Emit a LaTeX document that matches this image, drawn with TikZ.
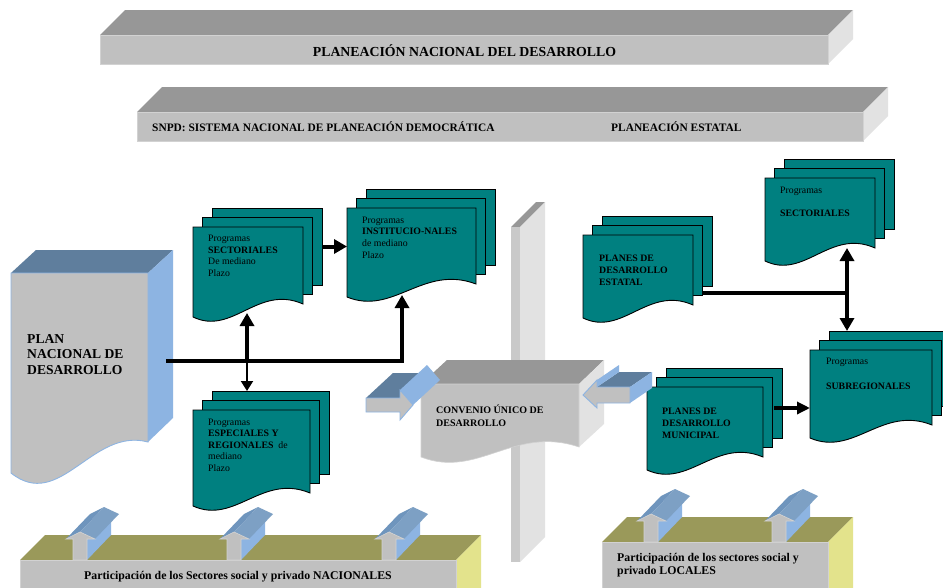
\documentclass[tikz,border=0pt]{standalone}
\usepackage{fontspec}
\setmainfont{Liberation Serif}
\usetikzlibrary{arrows.meta}

\definecolor{teal0}{HTML}{008080}
\definecolor{gFront}{HTML}{C0C0C0}
\definecolor{gTop}{HTML}{979797}
\definecolor{gSide}{HTML}{E2E2E2}
\definecolor{gEdge}{HTML}{D2D2D2}
\definecolor{slate}{HTML}{5F7E9D}
\definecolor{skyb}{HTML}{8DB4E2}
\definecolor{roofc}{HTML}{6F95BD}
\definecolor{olive}{HTML}{9A995A}
\definecolor{ylw}{HTML}{E3E38C}

% a stack of three document pages; #1 name, #2/#3 top-left of the front page,
% #4 width, #5 height of the right edge
\newcommand\docstack[5]{%
  \begin{scope}[shift={(#2,#3)}]
    \filldraw[page] (19,-19) rectangle ++(#4,#5);
    \node[anchorbox, minimum width=#4pt, minimum height=#5pt] (#1-b) at (19,-19) {};
    \filldraw[page] (9.5,-9.5) rectangle ++(#4,#5);
    \node[anchorbox, minimum width=#4pt, minimum height=#5pt] (#1-m) at (9.5,-9.5) {};
    \filldraw[page] (0,0) -- (#4,0) -- (#4,#5)
      .. controls ({0.59*#4},{#5-20}) and ({0.36*#4},{#5+32}) .. (0,{#5+13}) -- cycle;
    \node[anchorbox, minimum width=#4pt, minimum height=#5pt] (#1) at (0,0) {};
  \end{scope}}

% an extruded upward arrow standing on a bar; #1/#2 bottom-left of its shaft
\newcommand\housearrow[2]{%
  \begin{scope}[shift={(#1,#2)}]
    \fill[skyb] (14,0) -- (14,-21) -- (38,-46) -- (38,-25) -- cycle;
    \fill[roofc] (-7,-21) -- (7,-28) -- (31,-53) -- (17,-46) -- cycle;
    \fill[roofc!90!white] (7,-28) -- (22,-21) -- (46,-46) -- (31,-53) -- cycle;
    \filldraw[fill=gFront, draw=gEdge, line width=0.6pt]
      (0,0) -- (0,-21) -- (-7,-21) -- (7,-28) -- (22,-21) -- (14,-21) -- (14,0) -- cycle;
  \end{scope}}

\begin{document}
\begin{tikzpicture}[x=1pt, y=-1pt,
  page/.style={fill=teal0, draw=black, line width=0.9pt},
  anchorbox/.style={inner sep=0pt, outer sep=0pt, anchor=north west},
  doctext/.style={inner sep=0pt, anchor=base west, font=\fontsize{9.8}{11.6}\selectfont},
  docbold/.style={inner sep=0pt, anchor=base west, font=\bfseries\fontsize{9.8}{12}\selectfont},
  bartext/.style={inner sep=0pt, anchor=base west, font=\bfseries\fontsize{11.4}{13}\selectfont},
  basetext/.style={inner sep=0pt, font=\bfseries\fontsize{11.8}{12.4}\selectfont},
  conn/.style={draw=black, line width=4pt},
  bigtip/.style={-{Triangle[length=13pt,width=14pt]}},
  facefront/.style={fill=gFront, draw=gEdge, line width=0.6pt}]

\useasboundingbox (0,0) rectangle (943,587);
\clip (0,0) rectangle (943,587);
\fill[white] (0,0) rectangle (943,587);

% ---- heading bars
\fill[gTop] (100,35) -- (828,35) -- (853,10) -- (125,10) -- cycle;
\fill[gSide] (828,35) -- (853,10) -- (853,39) -- (828,64) -- cycle;
\filldraw[facefront] (100,35) rectangle (828,64);
\node[inner sep=0pt, anchor=base, font=\bfseries\fontsize{13.8}{15}\selectfont]
  (pnd-title) at (464.5,56.7) {PLANEACIÓN NACIONAL DEL DESARROLLO};

\fill[gTop] (137,112) -- (863,112) -- (888,87) -- (162,87) -- cycle;
\fill[gSide] (863,112) -- (888,87) -- (888,116) -- (863,141) -- cycle;
\filldraw[facefront] (137,112) rectangle (863,141);
\node[bartext] (snpd) at (152,131.7) {SNPD: SISTEMA NACIONAL DE PLANEACIÓN DEMOCRÁTICA};
\node[bartext] (estatal-title) at (611,131.7) {PLANEACIÓN ESTATAL};

% ---- central wall
\fill[gTop] (511,227) -- (520,227) -- (545,202) -- (536,202) -- cycle;
\fill[gSide] (520,227) -- (545,202) -- (545,537) -- (520,562) -- cycle;
\fill[gFront!85!white] (511,227) rectangle (520,562);

% ---- Plan Nacional de Desarrollo
\fill[slate] (11,273) -- (148,273) -- (173,250) -- (36,250) -- cycle;
\fill[skyb] (148,273) -- (173,250) -- (173,418) -- (148,442) -- cycle;
\filldraw[fill=gFront, draw=skyb, line width=0.9pt]
  (11,273) -- (148,273) -- (148,442) .. controls (92,427) and (60,512) .. (11,473) -- cycle;
\node[anchorbox, minimum width=137pt, minimum height=169pt] (pnd) at (11,273) {};
\node[inner sep=0pt, anchor=base west, font=\bfseries\fontsize{13.6}{15.5}\selectfont]
  (pnd-text) at (27,343) {\begin{tabular}[t]{@{}l@{}}PLAN\\NACIONAL DE\\DESARROLLO\end{tabular}};

% ---- program documents
\docstack{sect}{193}{227}{110}{77}
\docstack{inst}{347}{208}{129}{76}
\docstack{espe}{193}{410}{117}{83}
\docstack{estatal}{583}{235}{110}{70}
\docstack{sectr}{765}{178}{110}{70}
\docstack{subreg}{810}{350}{122}{75}
\docstack{munic}{647}{387}{116}{70}

\node[doctext] (sect-text) at (208,241.7)
  {\begin{tabular}[t]{@{}l@{}}Programas\\\textbf{SECTORIALES}\\De mediano\\Plazo\end{tabular}};
\node[doctext] (inst-text) at (362,223.3)
  {\begin{tabular}[t]{@{}l@{}}Programas\\\textbf{INSTITUCIO-NALES}\\de mediano\\Plazo\end{tabular}};
\node[doctext] (espe-text) at (208,425)
  {\begin{tabular}[t]{@{}l@{}}Programas\\\textbf{ESPECIALES Y}\\\textbf{REGIONALES}\ \ de\\mediano\\Plazo\end{tabular}};
\node[docbold] (estatal-text) at (599,261)
  {\begin{tabular}[t]{@{}l@{}}PLANES DE\\DESARROLLO\\ESTATAL\end{tabular}};
\node[doctext] (sectr-text) at (780,193)
  {\begin{tabular}[t]{@{}l@{}}Programas\\[0pt]\\\textbf{SECTORIALES}\end{tabular}};
\node[doctext, font=\fontsize{9.8}{12.5}\selectfont] (subreg-text) at (826,364)
  {\begin{tabular}[t]{@{}l@{}}Programas\\[0pt]\\\textbf{SUBREGIONALES}\end{tabular}};
\node[docbold] (munic-text) at (662,414)
  {\begin{tabular}[t]{@{}l@{}}PLANES DE\\DESARROLLO\\MUNICIPAL\end{tabular}};

% ---- Convenio Único de Desarrollo
\fill[gTop] (421,384) -- (579,384) -- (604,360) -- (447,360) -- cycle;
\fill[gSide] (579,384) -- (604,360) -- (604,424) -- (579,447) -- cycle;
\filldraw[facefront]
  (421,384) -- (579,384) -- (579,447) .. controls (514,425) and (478,479) .. (421,457) -- cycle;
\node[anchorbox, minimum width=158pt, minimum height=63pt] (cud) at (421,384) {};
\node[inner sep=0pt, anchor=base west, font=\bfseries\fontsize{10}{13}\selectfont]
  (cud-text) at (436,413) {\begin{tabular}[t]{@{}l@{}}CONVENIO ÚNICO DE\\DESARROLLO\end{tabular}};

% extruded arrow entering from the left
\fill[slate] (366,398) -- (400,398) -- (427,373) -- (393,373) -- cycle;
\fill[skyb] (400,390) -- (413,405) -- (440,380) -- (427,365) -- cycle;
\filldraw[fill=gFront, draw=skyb, line width=0.9pt]
  (366,398) -- (400,398) -- (400,390) -- (413,405) -- (400,420) -- (400,412) -- (366,412) -- cycle;

% extruded arrow entering from the right
\fill[slate] (597,387) -- (630,387) -- (652,372) -- (619,372) -- cycle;
\fill[skyb] (630,387) -- (652,372) -- (652,388) -- (630,403) -- cycle;
\fill[skyb] (597,380) -- (619,365) -- (619,372) -- (597,387) -- cycle;
\filldraw[fill=gFront, draw=skyb, line width=0.9pt]
  (583,395) -- (597,380) -- (597,387) -- (630,387) -- (630,403) -- (597,403) -- (597,408) -- cycle;

% ---- connectors
\coordinate (pnd-out) at (166,360.5);
\coordinate (jA) at (247,360.5);
\coordinate (jB) at (402,360.5);
\coordinate (sect-tip) at (247,313);
\coordinate (inst-tip) at (402,295);
\coordinate (j2) at (847,293);
\coordinate (munic-out) at (774,408);

\draw[conn, bigtip] (sect-b.east) -- (sect-b.east -| inst.west);
\draw[conn, line join=miter, bigtip] (pnd-out) -- (jB) -- (inst-tip);
\draw[conn, bigtip] (jA) -- (sect-tip);
\draw[draw=black, line width=2pt, -{Triangle[length=10pt,width=12pt]}] (jA) -- (jA |- espe-b.north);

\draw[draw=black, line width=3.6pt] (estatal-m.east |- j2) -- (j2);
\draw[conn, bigtip] (j2) -- (j2 |- sectr.south);
\draw[conn, bigtip] (j2) -- (j2 |- subreg-b.north);
\draw[conn, -{Triangle[length=13pt,width=12pt]}] (munic-out) -- (munic-out -| subreg.west);

% ---- participation bars
\fill[olive] (20,560) -- (456,560) -- (481,535) -- (45,535) -- cycle;
\fill[ylw] (456,560) -- (481,535) -- (481,600) -- (456,600) -- cycle;
\filldraw[facefront] (20,560) rectangle (456,600);
\housearrow{73}{560}
\housearrow{227}{560}
\housearrow{382}{560}
\node[basetext, anchor=base] (part-nac) at (238,579)
  {Participación de los Sectores social y privado NACIONALES};

\fill[olive] (602,542) -- (828,542) -- (853,517) -- (627,517) -- cycle;
\fill[ylw] (828,542) -- (853,517) -- (853,600) -- (828,600) -- cycle;
\filldraw[facefront] (602,542) rectangle (828,600);
\housearrow{644}{542}
\housearrow{772}{542}
\node[basetext, anchor=base west] (part-loc) at (617,561.7)
  {\begin{tabular}[t]{@{}l@{}}Participación de los sectores social y\\privado LOCALES\end{tabular}};

\end{tikzpicture}
\end{document}
